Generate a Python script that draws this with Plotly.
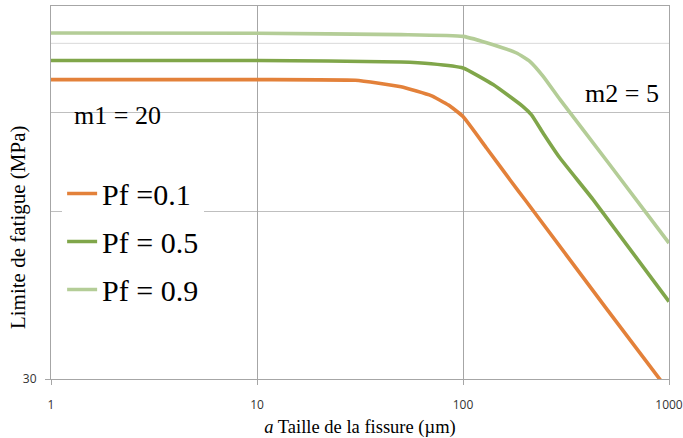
import math
import plotly.graph_objects as go

# ---- data (crack size a in µm, fatigue limit in MPa)
a_p01 = [1, 10, 30, 50, 70, 85, 100, 130, 170, 200, 500, 1000]
s_p01 = [103.3, 103.3, 103.0, 100.3, 96.7, 93.0, 88.7, 77.9, 68.1, 62.9, 40.0, 28.5]

a_p05 = [1, 10, 50, 70, 100, 140, 195, 215, 245, 295, 430, 1000]
s_p05 = [111.8, 111.8, 111.1, 110.3, 108.4, 101.2, 92.5, 89.3, 82.8, 74.8, 62.8, 41.3]

a_p09 = [1, 10, 50, 100, 140, 182, 211, 245, 296, 517, 1000]
s_p09 = [125.2, 125.1, 124.4, 123.5, 119.3, 115.3, 111.4, 104.7, 95.1, 72.6, 52.6]

names = ["Pf =0.1", "Pf = 0.5", "Pf = 0.9"]
colors = ["#E3813A", "#80A64A", "#B4CD97"]

x_ticks = [1, 10, 100, 1000]
x_ticktext = ["1", "10", "100", "1000"]
y_ticks = [30]
y_ticktext = ["30"]
y_grid_mid = [60, 90]
y_grid_light = [120]
y_range = [30, 140]
x_range = [1, 1000]

serif = "Liberation Serif, DejaVu Serif, serif"
sans = "Open Sans"

fig = go.Figure()
for i, (xs, ys) in enumerate([(a_p01, s_p01), (a_p05, s_p05), (a_p09, s_p09)]):
    fig.add_trace(go.Scatter(
        x=xs, y=ys, mode="lines", name=names[i], legendgroup=f"g{i}",
        line=dict(color=colors[i], width=3.6, shape="spline", smoothing=0.4),
    ))

for v in y_grid_light:
    fig.add_shape(type="line", xref="paper", x0=0, x1=1, yref="y", y0=v, y1=v,
                  line=dict(color="#d9d9d9", width=1), layer="below")

fig.update_layout(
    width=683, height=438,
    margin=dict(l=51, r=14, t=6, b=59),
    paper_bgcolor="white", plot_bgcolor="white",
    showlegend=True,
    legend=dict(
        x=0.018, y=0.567, xanchor="left", yanchor="top",
        bgcolor="white", borderwidth=0,
        font=dict(family=serif, size=30, color="black"),
        tracegroupgap=6, itemwidth=30,
    ),
    xaxis=dict(
        type="log", range=[math.log10(x_range[0]), math.log10(x_range[1])],
        tickmode="array", tickvals=x_ticks, ticktext=x_ticktext,
        ticks="outside", ticklen=5, tickcolor="#a6a6a6",
        ticklabelstandoff=10, automargin=False,
        tickfont=dict(family=sans, size=12, color="#333333"),
        showgrid=True, gridcolor="#a6a6a6", gridwidth=1,
        showline=True, linecolor="#a6a6a6", linewidth=1, mirror=True,
        zeroline=False,
        title=dict(text="<i>a</i> Taille de la fissure (µm)",
                   font=dict(family=serif, size=18.5, color="black"), standoff=8),
    ),
    yaxis=dict(
        type="log", range=[math.log10(y_range[0]), math.log10(y_range[1])],
        tickmode="array", tickvals=y_ticks, ticktext=y_ticktext,
        ticks="outside", ticklen=5, tickcolor="#a6a6a6",
        ticklabelstandoff=6, automargin=False,
        tickfont=dict(family=sans, size=12, color="#333333"),
        showgrid=False,
        minor=dict(tickmode="array", tickvals=y_grid_mid, showgrid=True,
                   gridcolor="#bfbfbf", gridwidth=1, ticks=""),
        showline=True, linecolor="#a6a6a6", linewidth=1, mirror=True,
        zeroline=False,
    ),
    annotations=[
        dict(text="Limite de fatigue (MPa)", xref="paper", yref="paper",
             x=-0.053, y=0.408, xanchor="center", yanchor="middle", textangle=-90,
             showarrow=False, font=dict(family=serif, size=21, color="black")),
        dict(text="m1 = 20", xref="paper", yref="paper", x=0.108, y=0.706,
             xanchor="center", yanchor="middle",
             showarrow=False, font=dict(family=serif, size=26, color="black")),
        dict(text="m2 = 5", xref="paper", yref="paper", x=0.924, y=0.765,
             xanchor="center", yanchor="middle",
             showarrow=False, font=dict(family=serif, size=26, color="black")),
    ],
)

fig.write_html("out.html")
